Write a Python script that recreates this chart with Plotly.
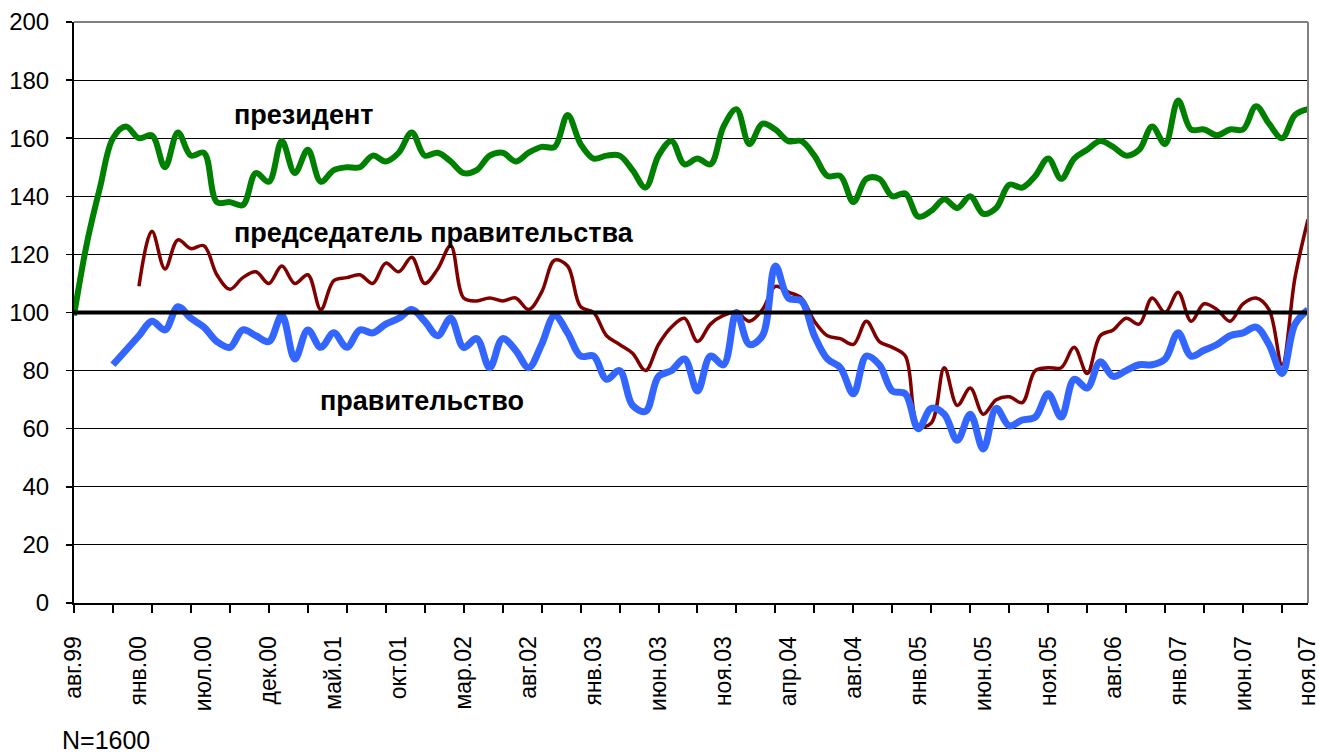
import plotly.graph_objects as go

# ---- data -----------------------------------------------------------------
MONTHS = [
    "авг.99", "сен.99", "окт.99", "ноя.99", "дек.99",
    "янв.00", "фев.00", "мар.00", "апр.00", "май.00",
    "июл.00", "авг.00", "сен.00", "окт.00", "ноя.00",
    "дек.00", "янв.01", "фев.01", "мар.01", "апр.01",
    "май.01", "июн.01", "июл.01", "авг.01", "сен.01",
    "окт.01", "ноя.01", "дек.01", "янв.02", "фев.02",
    "мар.02", "апр.02", "май.02", "июн.02", "июл.02",
    "авг.02", "сен.02", "окт.02", "ноя.02", "дек.02",
    "янв.03", "фев.03", "мар.03", "апр.03", "май.03",
    "июн.03", "июл.03", "авг.03", "сен.03", "окт.03",
    "ноя.03", "дек.03", "янв.04", "фев.04", "мар.04",
    "апр.04", "май.04", "июн.04", "июл.04", "июл.04",
    "авг.04", "сен.04", "окт.04", "ноя.04", "дек.04",
    "янв.05", "фев.05", "мар.05", "апр.05", "май.05",
    "июн.05", "июл.05", "авг.05", "сен.05", "окт.05",
    "ноя.05", "янв.06", "мар.06", "апр.06", "июн.06",
    "авг.06", "сен.06", "окт.06", "ноя.06", "дек.06",
    "янв.07", "фев.07", "мар.07", "апр.07", "май.07",
    "июн.07", "июл.07", "авг.07", "сен.07", "окт.07",
    "ноя.07",
]

PRESIDENT = [
    99, 124, 143, 160, 164, 160, 161, 150, 162, 154,
    155, 138, 138, 137, 148, 145, 159, 148, 156, 145,
    149, 150, 150, 154, 152, 155, 162, 154, 155, 152,
    148, 149, 154, 155, 152, 155, 157, 157, 168, 158,
    153, 154, 154, 149, 143, 154, 159, 151, 153, 151,
    164, 170, 158, 165, 163, 159, 159, 154, 147, 147,
    138, 146, 146, 140, 141, 133, 135, 139, 136, 140,
    134, 136, 144, 143, 147, 153, 146, 153, 156, 159,
    157, 154, 156, 164, 158, 173, 163, 163, 161, 163,
    163, 171, 165, 160, 168, 170,
]

PREMIER = [
    None, None, None, None, None, 109, 128, 115, 125, 122,
    123, 113, 108, 112, 114, 110, 116, 110, 113, 101,
    111, 112, 113, 110, 117, 114, 119, 110, 115, 123,
    105, 104, 105, 104, 105, 101, 107, 118, 116, 102,
    100, 92, 89, 86, 80, 89, 95, 98, 90, 96,
    99, 100, 97, 101, 109, 107, 105, 97, 92, 91,
    89, 97, 90, 88, 85, 61, 62, 81, 68, 74,
    65, 70, 71, 69, 80, 81, 81, 88, 79, 92,
    94, 98, 96, 105, 100, 107, 97, 103, 101, 97,
    103, 105, 101, 82, 112, 132,
]

GOVERNMENT = [
    None, None, None, 82, 87, 92, 97, 94, 102, 98,
    95, 90, 88, 94, 92, 90, 99, 84, 94, 88,
    93, 88, 94, 93, 96, 98, 101, 97, 92, 98,
    88, 91, 81, 91, 87, 81, 89, 99, 93, 85,
    85, 77, 80, 68, 66, 78, 80, 84, 73, 85,
    82, 100, 89, 92, 116, 105, 104, 92, 84, 81,
    72, 85, 82, 73, 72, 60, 67, 65, 56, 65,
    53, 67, 61, 63, 64, 72, 64, 77, 74, 83,
    78, 80, 82, 82, 84, 93, 85, 87, 89, 92,
    93, 95, 89, 79, 96, 101,
]

REFERENCE_LEVEL = 100
Y_TICKS = [0, 20, 40, 60, 80, 100, 120, 140, 160, 180, 200]
LABEL_STEP = 5
MINOR_TICK_STEP = 3

# ---- figure ---------------------------------------------------------------
FONT = "Liberation Sans, Arial, sans-serif"
idx = list(range(len(MONTHS)))

fig = go.Figure()
fig.add_trace(go.Scatter(
    x=idx, y=PRESIDENT, mode="lines", name="президент",
    line=dict(color="#008000", width=6, shape="spline", smoothing=1),
))
fig.add_trace(go.Scatter(
    x=idx, y=PREMIER, mode="lines", name="председатель правительства",
    line=dict(color="#800000", width=3.5, shape="spline", smoothing=1),
))
fig.add_trace(go.Scatter(
    x=idx, y=GOVERNMENT, mode="lines", name="правительство",
    line=dict(color="#3366ff", width=7, shape="spline", smoothing=1),
))

fig.add_hline(y=REFERENCE_LEVEL, line=dict(color="black", width=4), layer="above")

# plot-area border (top / right) in grey like the original
fig.add_shape(type="line", xref="paper", yref="paper", x0=0, x1=1, y0=1, y1=1,
              line=dict(color="#808080", width=2))
fig.add_shape(type="line", xref="paper", yref="paper", x0=1, x1=1, y0=0, y1=1,
              line=dict(color="#808080", width=2))

ANN_FONT = dict(family=FONT, size=27, color="black")
fig.add_annotation(text="<b>президент</b>", x=17.7, y=168, xref="x", yref="y",
                   showarrow=False, font=ANN_FONT)
fig.add_annotation(text="<b>председатель правительства</b>", x=27.7, y=127.5,
                   xref="x", yref="y", showarrow=False, font=ANN_FONT)
fig.add_annotation(text="<b>правительство</b>", x=26.8, y=69.5, xref="x", yref="y",
                   showarrow=False, font=ANN_FONT)
fig.add_annotation(text="N=1600", xref="paper", yref="paper",
                   x=-0.011, y=-0.235, xanchor="left", yanchor="middle",
                   showarrow=False, font=dict(family=FONT, size=25, color="black"))

fig.update_layout(
    width=1319, height=753,
    margin=dict(l=74, r=11, t=22, b=150),
    paper_bgcolor="white", plot_bgcolor="white",
    showlegend=False,
    font=dict(family=FONT, size=24, color="black"),
    xaxis=dict(
        range=[0, len(MONTHS) - 1],
        automargin=False,
        tickmode="array",
        tickvals=idx[::LABEL_STEP],
        ticktext=MONTHS[::LABEL_STEP],
        tickangle=-90,
        ticks="",
        ticklabelstandoff=22,
        ticklabeloverflow="allow",
        showline=True, linecolor="black", linewidth=2,
        showgrid=False, zeroline=False,
        tickfont=dict(family=FONT, size=23, color="black"),
        minor=dict(ticks="outside", tick0=0, dtick=MINOR_TICK_STEP, ticklen=8,
                   tickwidth=2, tickcolor="black", showgrid=False),
    ),
    yaxis=dict(
        range=[0, 200],
        automargin=False,
        tickmode="array", tickvals=Y_TICKS,
        showgrid=True, gridcolor="black", gridwidth=1,
        showline=True, linecolor="black", linewidth=2,
        ticks="outside", ticklen=6, tickwidth=1.5, tickcolor="black",
        ticklabelstandoff=12,
        ticklabeloverflow="allow",
        zeroline=False,
        tickfont=dict(family=FONT, size=24, color="black"),
    ),
)

fig.write_html(
    "out.html",
    config={"displayModeBar": False, "staticPlot": True},
    post_script="document.body.style.margin='0';document.body.style.overflow='hidden';",
)
